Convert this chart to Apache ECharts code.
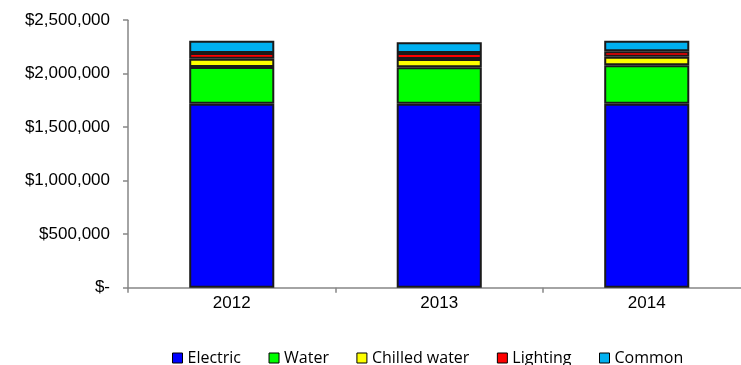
<!DOCTYPE html>
<html>
<head>
<meta charset="utf-8">
<style>
  html, body { margin: 0; padding: 0; background: #fff; overflow: hidden; }
  #chart { width: 760px; height: 365px; }
</style>
<script src="https://cdn.jsdelivr.net/npm/echarts@6/dist/echarts.min.js"></script>
</head>
<body>
<div id="chart"></div>
<script>
// Annual cost by system, stacked per year
const years = ['2012', '2013', '2014'];
const electric = [1720000, 1720000, 1720000];
const water = [343000, 340000, 359000];
const chilledWater = [77000, 77000, 80000];
const lighting = [53000, 56000, 50000];
const common = [115000, 100000, 99000];
const yTicks = [0, 500000, 1000000, 1500000, 2000000, 2500000];

const seriesDefs = [
  { name: 'Electric', data: electric, color: '#0000ff' },
  { name: 'Water', data: water, color: '#00ff00' },
  { name: 'Chilled water', data: chilledWater, color: '#ffff00' },
  { name: 'Lighting', data: lighting, color: '#ff0000' },
  { name: 'Common', data: common, color: '#00b0f0' }
];

function money(v) {
  if (v === 0) return '$-';
  return '$' + v.toLocaleString('en-US');
}

// The plot area runs slightly past the right edge of the visible page
const chart = echarts.init(document.getElementById('chart'), null, { renderer: 'canvas' });
chart.setOption({
  animation: false,
  backgroundColor: '#ffffff',
  grid: { left: 128, right: 9.5, top: 20.2, bottom: 77.3, containLabel: false },
  legend: {
    left: 172,
    top: 350,
    padding: 0,
    itemWidth: 10,
    itemHeight: 10,
    itemGap: 27.5,
    icon: 'rect',
    textStyle: { fontFamily: 'Open Sans', fontSize: 16, color: '#000' },
    data: seriesDefs.map(s => ({ name: s.name, itemStyle: { color: s.color, borderColor: '#000', borderWidth: 1 } }))
  },
  xAxis: {
    type: 'category',
    data: years,
    axisLine: { lineStyle: { color: '#868686', width: 1.5 } },
    axisTick: { show: true, length: 5, lineStyle: { color: '#868686', width: 1.5 } },
    axisLabel: { color: '#000', fontFamily: 'Liberation Sans', fontSize: 17, margin: 7 }
  },
  yAxis: {
    type: 'value',
    min: yTicks[0],
    max: yTicks[yTicks.length - 1],
    interval: yTicks[1] - yTicks[0],
    splitLine: { show: false },
    axisLine: { show: true, lineStyle: { color: '#868686', width: 1.5 } },
    axisTick: { show: true, length: 5, lineStyle: { color: '#868686', width: 1.5 } },
    axisLabel: { color: '#000', fontFamily: 'Liberation Sans', fontSize: 17, margin: 18, formatter: money }
  },
  series: seriesDefs.map(s => ({
    name: s.name,
    type: 'bar',
    stack: 'total',
    barWidth: '41%',
    data: s.data,
    itemStyle: { color: s.color, borderColor: '#1a1a1a', borderWidth: 2 }
  }))
});
</script>
</body>
</html>
